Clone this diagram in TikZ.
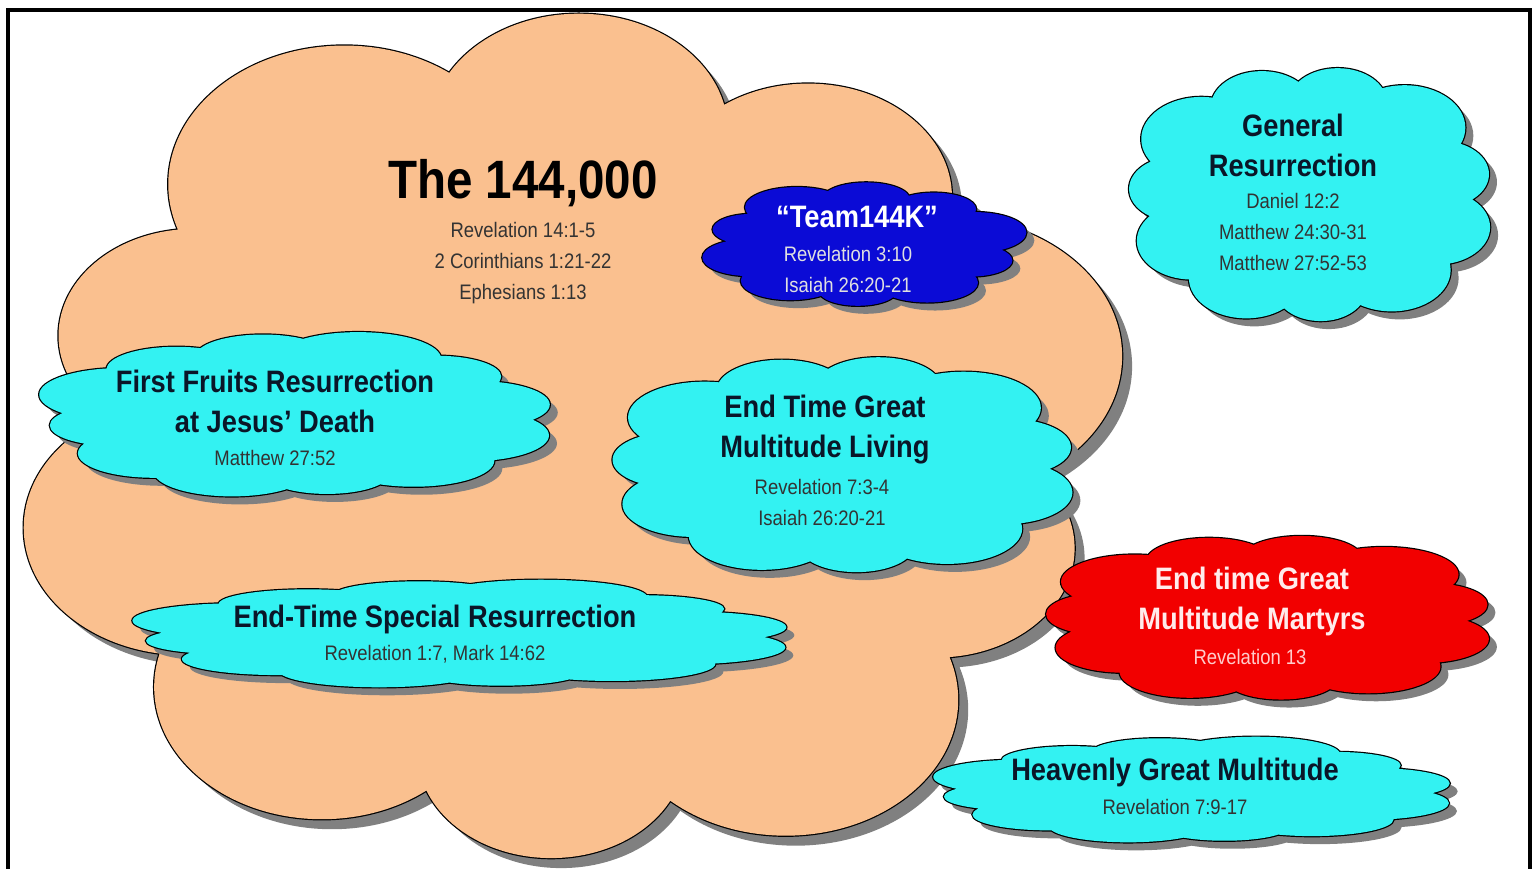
\documentclass[tikz,border=0pt]{standalone}
\usepackage{fontspec}
\setmainfont{Liberation Sans}[FakeStretch=0.88]
\usetikzlibrary{positioning}

\definecolor{peach}{HTML}{FAC08F}
\definecolor{skycyan}{HTML}{33F2F2}
\definecolor{deepblue}{HTML}{0B0BD6}
\definecolor{martyrred}{HTML}{F20000}
\definecolor{shadowgray}{HTML}{808080}
\definecolor{titleink}{HTML}{0A1628}
\definecolor{refink}{HTML}{333333}

% one pass of a cloud: options, centre, half width, half height, puffs, offset
\newcommand{\cloudblob}[6]{%
  \path[#1, shift={(#2)}, xshift=#6, yshift=-#6, xscale=#3, yscale=#4] (0,0) circle[radius=0.72]
    \foreach \k in {1,...,#5} {(\k*360/#5+20:0.71) circle[radius={0.28+0.04*sin(\k*131)}]};}
% shadow, outline and fill of a cloud
\newcommand{\puffcloud}[6]{%
  \cloudblob{fill=shadowgray}{#2}{#3}{#4}{#5}{#6}
  \cloudblob{draw=black, line width=2.4pt}{#2}{#3}{#4}{#5}{0pt}
  \cloudblob{fill=#1}{#2}{#3}{#4}{#5}{0pt}}

\begin{document}
\begin{tikzpicture}[x=1pt, y=-1pt,
    title/.style ={align=center, text=titleink, font=\bfseries\fontsize{31}{40}\selectfont},
    refs/.style ={align=center, text=refink, font=\fontsize{21}{31}\selectfont}]
   \useasboundingbox (0,0) rectangle (1538,869);
   % clouds
   \coordinate (flock) at (565,442);
   \coordinate (team) at (862,245);
   \coordinate (general) at (1310,195);
   \coordinate (fruits) at (295,415);
   \coordinate (living) at (843,465);
   \coordinate (special) at (460,634);
   \coordinate (martyrs) at (1268,618);
   \coordinate (heavenly) at (1192,790);
   \puffcloud{peach}{flock}{556}{438}{10}{10pt}
   \puffcloud{deepblue}{team}{164}{64}{10}{8pt}
   \puffcloud{skycyan}{general}{190}{133}{11}{8pt}
   \puffcloud{skycyan}{fruits}{260}{84}{12}{8pt}
   \puffcloud{skycyan}{living}{242}{113}{11}{8pt}
   \puffcloud{skycyan}{special}{333}{55}{12}{8pt}
   \puffcloud{martyrred}{martyrs}{233}{86}{11}{8pt}
   \puffcloud{skycyan}{heavenly}{263}{54}{12}{8pt}
   % texts
   \node[title, font=\bfseries\fontsize{54}{60}\selectfont, text=black] (flock title) at (523,183) {The 144,000};
   \node[refs] (flock refs) at (523,263) {Revelation 14:1-5\\2 Corinthians 1:21-22\\Ephesians 1:13};
   \node[title, text=white] (team title) at (857,217) {“Team144K”};
   \node[refs, text=white!88!black] (team refs) at (848,269) {Revelation 3:10\\Isaiah 26:20-21};
   \node[title] (general title) at (1293,145) {General\\Resurrection};
   \node[refs] (general refs) at (1293,232) {Daniel 12:2\\Matthew 24:30-31\\Matthew 27:52-53};
   \node[title] (fruits title) at (275,401) {First Fruits Resurrection\\at Jesus’ Death};
   \node[refs] (fruits refs) at (275,458) {Matthew 27:52};
   \node[title] (living title) at (825,430) {End Time Great\\Multitude Living};
   \node[refs] (living refs) at (822,502) {Revelation 7:3-4\\Isaiah 26:20-21};
   \node[title] (special title) at (435,619) {End-Time Special Resurrection};
   \node[refs] (special refs) at (435,654) {Revelation 1:7, Mark 14:62};
   \node[title, text=red!8!white] (martyrs title) at (1252,601) {End time Great\\Multitude Martyrs};
   \node[refs, text=red!20!white] (martyrs refs) at (1250,657) {Revelation 13};
   \node[title] (heavenly title) at (1175,772) {Heavenly Great Multitude};
   \node[refs] (heavenly refs) at (1175,807) {Revelation 7:9-17};
   % frame
   \draw[line width=4pt] (8,869) -- (8,10) -- (1530,10) -- (1530,869);
\end{tikzpicture}
\end{document}
